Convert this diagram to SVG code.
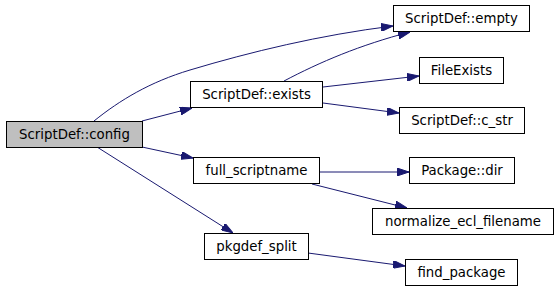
<svg xmlns="http://www.w3.org/2000/svg" width="557" height="291" viewBox="0 0 557 291">
<style>
.node rect{fill:#ffffff;stroke:#000000;stroke-width:1}
.node.root rect{fill:#bfbfbf}
.node text{font-family:"DejaVu Sans",sans-serif;font-size:13.3px;fill:#000000;text-anchor:middle}
.edges path{fill:none;stroke:#191970;stroke-width:1}
</style>
<defs>
<marker id="ah" markerUnits="userSpaceOnUse" markerWidth="12" markerHeight="8" refX="12" refY="4" orient="auto">
<path d="M0,0 L12,4 L0,8 z" fill="#191970" stroke="#191970" stroke-width="1"/>
</marker>
</defs>
<rect x="0" y="0" width="557" height="291" fill="#ffffff"/>
<g class="edges">
<path d="M94,121 C120,100 150,82 190,70 C250,52 320,35 393,26" marker-end="url(#ah)"/>
<path d="M142,121 L192,108" marker-end="url(#ah)"/>
<path d="M284,81 C320,62 360,45 410,32" marker-end="url(#ah)"/>
<path d="M323,87 L419,76" marker-end="url(#ah)"/>
<path d="M323,103 L399,113" marker-end="url(#ah)"/>
<path d="M142,147 L193,158" marker-end="url(#ah)"/>
<path d="M97,147 L233,233" marker-end="url(#ah)"/>
<path d="M319,172 L409,172" marker-end="url(#ah)"/>
<path d="M312,184 L407,208" marker-end="url(#ah)"/>
<path d="M308,253 L405,266" marker-end="url(#ah)"/>
</g>
<g id="n-config" class="node root"><rect x="6.5" y="121.5" width="136" height="26"/><text x="74.5" y="139">ScriptDef::config</text></g>
<g id="n-exists" class="node"><rect x="190.5" y="81.5" width="132" height="26"/><text x="256.5" y="99">ScriptDef::exists</text></g>
<g id="n-empty" class="node"><rect x="393.5" y="5.5" width="136" height="26"/><text x="461.5" y="23">ScriptDef::empty</text></g>
<g id="n-fileexists" class="node"><rect x="419.5" y="57.5" width="84" height="26"/><text x="461.5" y="75">FileExists</text></g>
<g id="n-cstr" class="node"><rect x="399.5" y="107.5" width="125" height="26"/><text x="462" y="125">ScriptDef::c_str</text></g>
<g id="n-fullscriptname" class="node"><rect x="193.5" y="157.5" width="126" height="26"/><text x="256.5" y="175">full_scriptname</text></g>
<g id="n-pkgdefsplit" class="node"><rect x="204.5" y="233.5" width="104" height="26"/><text x="256.5" y="251">pkgdef_split</text></g>
<g id="n-packagedir" class="node"><rect x="409.5" y="157.5" width="105" height="26"/><text x="462" y="175">Package::dir</text></g>
<g id="n-normalize" class="node"><rect x="372.5" y="208.5" width="181" height="26"/><text x="463" y="226">normalize_ecl_filename</text></g>
<g id="n-findpackage" class="node"><rect x="405.5" y="259.5" width="112" height="26"/><text x="461.5" y="277">find_package</text></g>
</svg>
